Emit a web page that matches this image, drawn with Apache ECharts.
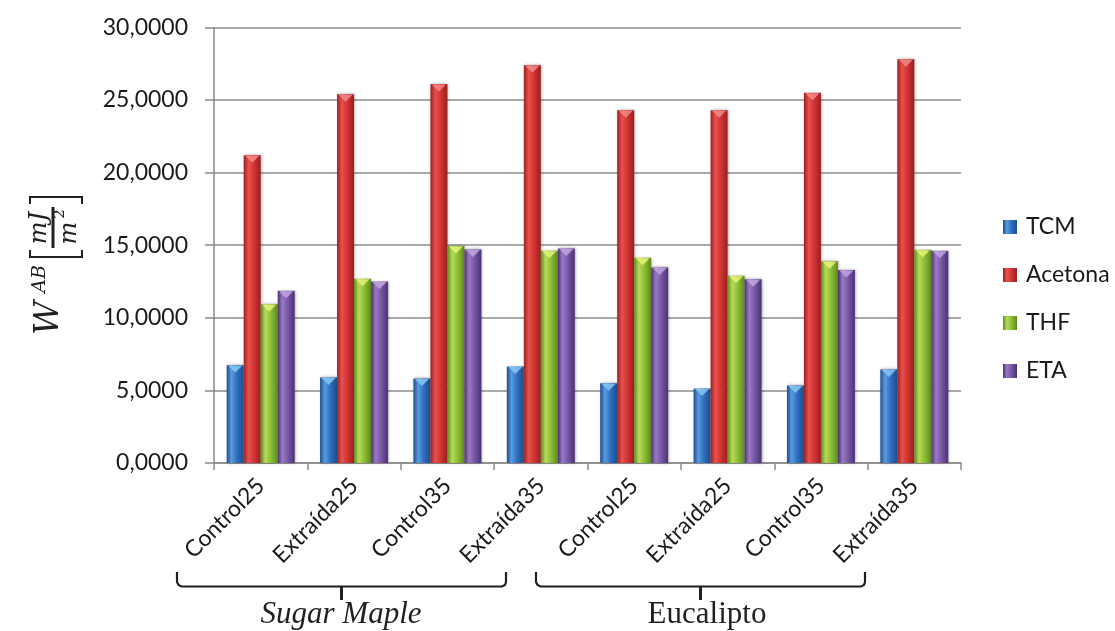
<!DOCTYPE html>
<html>
<head>
<meta charset="utf-8">
<script src="https://cdn.jsdelivr.net/npm/echarts@6/dist/echarts.min.js"></script>
<style>
  html, body { margin: 0; padding: 0; background: #ffffff; }
  #chart { width: 1115px; height: 631px; }
</style>
</head>
<body>
<div id="chart"></div>
<script>
// Samples: four per wood species
const categories = ['Control25', 'Extraída25', 'Control35', 'Extraída35',
                    'Control25', 'Extraída25', 'Control35', 'Extraída35'];
const seriesNames = ['TCM', 'Acetona', 'THF', 'ETA'];

// Work of adhesion W^AB [mJ/m²] per solvent
const tcm     = [6.74, 5.89, 5.82, 6.64, 5.50, 5.13, 5.34, 6.44];
const acetona = [21.2, 25.4, 26.1, 27.4, 24.3, 24.3, 25.5, 27.8];
const thf     = [10.93, 12.69, 14.94, 14.62, 14.14, 12.90, 13.90, 14.69];
const eta     = [11.87, 12.50, 14.71, 14.78, 13.47, 12.65, 13.29, 14.62];

const yTicks = { min: 0, max: 30, interval: 5 };
const groups = ['Sugar Maple', 'Eucalipto'];

// Bevelled bar look: dark edges, light highlight near the left third
function barFill(dark, light, mid) {
  return new echarts.graphic.LinearGradient(0, 0, 1, 0, [
    { offset: 0, color: dark },
    { offset: 0.28, color: light },
    { offset: 0.6, color: mid },
    { offset: 1, color: dark }
  ]);
}
const fills = [
  barFill('#1d4d8c', '#5a9be0', '#2f6fbf'),
  barFill('#9a1f1f', '#e8504d', '#d23434'),
  barFill('#5f8a1e', '#b5dc57', '#8ebd36'),
  barFill('#4b3273', '#9a7ac4', '#7656a6')
];
const capColors = ['#86c8f2', '#f28a8a', '#e6f27a', '#c2a6e0'];
const values = [tcm, acetona, thf, eta];

const BAR_W = 17;
const chart = echarts.init(document.getElementById('chart'));

const series = seriesNames.map((name, i) => ({
  name: name,
  type: 'bar',
  data: values[i],
  barWidth: BAR_W,
  barGap: '0%',
  itemStyle: {
    color: fills[i],
    shadowBlur: 3,
    shadowOffsetX: 1,
    shadowColor: 'rgba(0,0,0,0.35)'
  }
}));

// Bevel caps: a light downward triangle on top of each bar
seriesNames.forEach((name, i) => {
  series.push({
    name: name + ' cap',
    type: 'scatter',
    data: values[i],
    silent: true,
    z: 3,
    symbol: 'triangle',
    symbolRotate: 180,
    symbolSize: [BAR_W - 3, 7],
    symbolOffset: [(i - 1.5) * BAR_W, 4],
    itemStyle: { color: capColors[i], opacity: 0.85 }
  });
});

const ink = '#231f20';
const titleFont = 'DejaVu Serif';

chart.setOption({
  animation: false,
  backgroundColor: '#ffffff',
  grid: { left: 214, right: 154, top: 27.4, bottom: 168, containLabel: false },
  legend: {
    orient: 'vertical',
    left: 1003,
    top: 215,
    padding: 0,
    itemWidth: 14,
    itemHeight: 14,
    itemGap: 24,
    icon: 'rect',
    data: seriesNames,
    textStyle: { fontFamily: 'Lato', fontSize: 23, color: '#1a1a1a', lineHeight: 24, padding: [0, 0, 0, 4] }
  },
  xAxis: {
    type: 'category',
    data: categories,
    boundaryGap: true,
    axisLine: { lineStyle: { color: '#8a8a8a', width: 1.5 } },
    axisTick: { show: true, length: 7, lineStyle: { color: '#8a8a8a', width: 1.5 } },
    axisLabel: {
      interval: 0,
      rotate: 45,
      margin: 19,
      fontFamily: 'Lato',
      fontSize: 23,
      color: '#1a1a1a'
    }
  },
  yAxis: {
    type: 'value',
    min: yTicks.min,
    max: yTicks.max,
    interval: yTicks.interval,
    axisLine: { show: true, lineStyle: { color: '#8a8a8a', width: 1.5 } },
    axisTick: { show: true, length: 9, lineStyle: { color: '#8a8a8a', width: 1.5 } },
    splitLine: { lineStyle: { color: '#8c8c8c', width: 1.5 } },
    axisLabel: {
      margin: 26,
      fontFamily: 'Lato',
      fontSize: 23,
      color: '#1a1a1a',
      formatter: v => v.toFixed(4).replace('.', ',')
    }
  },
  series: series,
  graphic: [
    // Axis title: W^AB [mJ / m²], read bottom to top
    { type: 'text', x: 49, y: 318, rotation: Math.PI / 2,
      style: { text: 'W', font: 'italic 33px "' + titleFont + '"', fill: ink, align: 'center', verticalAlign: 'middle' } },
    { type: 'text', x: 40, y: 279, rotation: Math.PI / 2,
      style: { text: 'AB', font: 'italic 19px "' + titleFont + '"', fill: ink, align: 'center', verticalAlign: 'middle' } },
    { type: 'polyline', shape: { points: [[30, 250], [30, 257], [82, 257], [82, 250]] },
      style: { stroke: ink, lineWidth: 2, fill: null } },
    { type: 'polyline', shape: { points: [[30, 204], [30, 197], [82, 197], [82, 204]] },
      style: { stroke: ink, lineWidth: 2, fill: null } },
    { type: 'line', shape: { x1: 53, y1: 207, x2: 53, y2: 248 },
      style: { stroke: ink, lineWidth: 3 } },
    { type: 'text', x: 40, y: 228, rotation: Math.PI / 2,
      style: { text: 'mJ', font: 'italic 24px "' + titleFont + '"', fill: ink, align: 'center', verticalAlign: 'middle' } },
    { type: 'text', x: 70, y: 233, rotation: Math.PI / 2,
      style: { text: 'm', font: 'italic 24px "' + titleFont + '"', fill: ink, align: 'center', verticalAlign: 'middle' } },
    { type: 'text', x: 60, y: 214, rotation: Math.PI / 2,
      style: { text: '2', font: '15px "' + titleFont + '"', fill: ink, align: 'center', verticalAlign: 'middle' } },

    // Group braces under the category labels
    { type: 'polyline', shape: { points: [[177, 572], [177, 582], [178.5, 585], [181.5, 586.5], [502, 586.5], [505, 585], [506, 582], [506, 572]] },
      style: { stroke: ink, lineWidth: 2.2, fill: null } },
    { type: 'line', shape: { x1: 341.5, y1: 586, x2: 341.5, y2: 600 }, style: { stroke: ink, lineWidth: 3 } },
    { type: 'polyline', shape: { points: [[536, 572], [536, 582], [537.5, 585], [540.5, 586.5], [861, 586.5], [864, 585], [865, 582], [865, 572]] },
      style: { stroke: ink, lineWidth: 2.2, fill: null } },
    { type: 'line', shape: { x1: 700.5, y1: 586, x2: 700.5, y2: 600 }, style: { stroke: ink, lineWidth: 3 } },
    { type: 'text', x: 341, y: 615,
      style: { text: groups[0], font: 'italic 31px "Liberation Serif"', fill: ink, align: 'center', verticalAlign: 'middle' } },
    { type: 'text', x: 707, y: 615,
      style: { text: groups[1], font: '31px "Liberation Serif"', fill: ink, align: 'center', verticalAlign: 'middle' } }
  ]
});
</script>
</body>
</html>
